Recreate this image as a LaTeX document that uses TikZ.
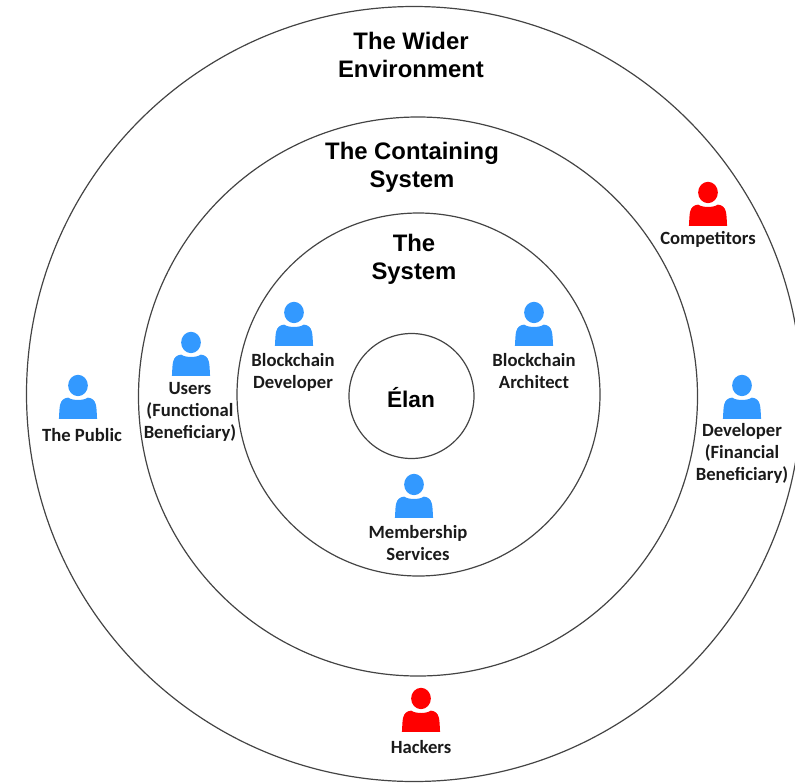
\documentclass[tikz,border=0pt]{standalone}
\usepackage{fontspec}
\setmainfont{Liberation Sans}
\newfontfamily\lblfont{Carlito}
\definecolor{pblue}{HTML}{3399FF}
\definecolor{pred}{HTML}{FF0000}
\definecolor{ringc}{HTML}{444444}
\definecolor{txtc}{HTML}{1A1A1A}
\tikzset{
  ring/.style={circle,draw=ringc,line width=0.9pt,inner sep=0pt,minimum size=#1*0.75pt},
  heading/.style={font=\fontsize{17.9}{21}\selectfont\bfseries,text=black,align=center,inner sep=0pt},
  lbl/.style={font=\lblfont\fontsize{14}{16.5}\selectfont\bfseries,text=txtc,align=center,inner sep=0pt},
  pics/person/.style={code={
    \fill[#1] (0,7.9pt) ellipse (7.4pt and 8pt);
    \fill[#1] (-14.3pt,-17.2pt) .. controls (-14pt,-12pt) and (-14pt,-9pt) .. (-13.4pt,-6.5pt)
       .. controls (-12.6pt,-3pt) and (-10.5pt,-1.6pt) .. (-7.4pt,-1.2pt)
       .. controls (-4pt,-3.6pt) and (4pt,-3.6pt) .. (7.4pt,-1.2pt)
       .. controls (10.5pt,-1.6pt) and (12.6pt,-3pt) .. (13.4pt,-6.5pt)
       .. controls (14pt,-9pt) and (14pt,-12pt) .. (14.3pt,-17.2pt) -- cycle;
  }}
}
\begin{document}
\begin{tikzpicture}[x=0.75pt,y=-0.75pt]
\useasboundingbox (0,0) rectangle (795,782);
\node[ring=775] (outer) at (414,394) {};
\node[ring=559] (middle) at (418,396.5) {};
\node[ring=363] (inner) at (418.5,394.5) {};
\node[ring=125] (core) at (411.5,396) {};

\node[heading] (t1) at (411,55) {The Wider\\Environment};
\node[heading] (t2) at (412,167) {The Containing\\System};
\node[heading] (t3) at (414,259) {The\\System};
\node[heading,font=\fontsize{17}{21}\selectfont\bfseries] (t4) at (411,398) {Élan};

\pic at (294,323) {person=pblue};
\pic at (534,323) {person=pblue};
\pic at (191,353) {person=pblue};
\pic at (78,396) {person=pblue};
\pic at (414,495) {person=pblue};
\pic at (742,396) {person=pblue};
\pic at (708,203) {person=pred};
\pic at (421,709) {person=pred};

\node[lbl] (a) at (293,372) {Blockchain\\Developer};
\node[lbl] (b) at (534,371) {Blockchain\\Architect};
\node[lbl] (c) at (190,412) {Users\\(Functional\\Beneficiary)};
\node[lbl] (d) at (82,435) {The Public};
\node[lbl] (e) at (418,543) {Membership\\Services};
\node[lbl] (f) at (742,453) {Developer\\(Financial\\Beneficiary)};
\node[lbl] (g) at (708,239) {Competitors};
\node[lbl] (h) at (421,747) {Hackers};
\end{tikzpicture}
\end{document}
